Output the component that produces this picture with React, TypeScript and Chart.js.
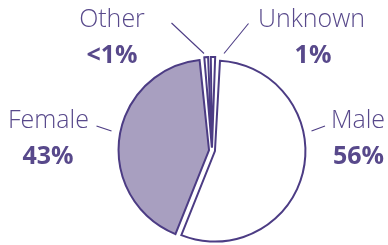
import React, { useEffect, useRef } from "react";
import { Chart, registerables } from "chart.js";

Chart.register(...registerables);

const CATEGORIES = ["Male", "Female", "Other", "Unknown"];
const SHARES = [56, 43, 0.9, 1];
const SHARE_LABELS = ["56%", "43%", "<1%", "1%"];

const FILLS = ["#ffffff", "#a89fc0", "#ffffff", "#ffffff"];
const EDGE = "#4c3c84";
const TEXT = "#58498b";

const DEG = Math.PI / 180;
const EXPLODE = 3; // px each slice is pulled out
const THIN = 10 * DEG; // slices narrower than this count as thin
const GAP_THIN_BIG = 1.2 * DEG; // extra gap beside a thin slice (taken from the big one)
const GAP_THIN_THIN = 1.6 * DEG; // gap between two thin slices (shared)

// label layout relative to pie centre: name centre, pct centre, leader line
const LABEL_LAYOUT = [
  { name: [146, -22.5], pct: [146.5, 13], line: [[99.5, -19.5], [113, -24.5]] },
  { name: [-163.5, -22.5], pct: [-164, 13], line: [[-100.5, -19.5], [-115.5, -24.5]] },
  { name: [-100, -123.5], pct: [-100, -88], line: [[-8, -97], [-40.5, -127.5]] },
  { name: [99.5, -123.5], pct: [101, -88], line: [[12, -97], [36.5, -127]] },
];

function gapShare(spanSelf: number, spanOther: number) {
  const a = spanSelf < THIN;
  const b = spanOther < THIN;
  if (a && b) return GAP_THIN_THIN / 2;
  if (!a && b) return GAP_THIN_BIG;
  return 0;
}

const explodedArcs = {
  id: "explodedArcs",
  beforeDatasetDraw(chart: any, args: any) {
    const meta = args.meta;
    const ctx = chart.ctx;
    const els = meta.data;
    const n = els.length;
    const props = els.map((el: any) =>
      el.getProps(["x", "y", "startAngle", "endAngle", "outerRadius"], true)
    );
    const spans = props.map((p: any) => p.endAngle - p.startAngle);
    ctx.save();
    els.forEach((el: any, i: number) => {
      const { x, y, startAngle, endAngle, outerRadius } = props[i];
      const prev = (i - 1 + n) % n;
      const next = (i + 1) % n;
      const o = el.options;
      const mid = (startAngle + endAngle) / 2;
      const px = x + Math.cos(mid) * EXPLODE;
      const py = y + Math.sin(mid) * EXPLODE;
      const a0 = startAngle + gapShare(spans[i], spans[prev]);
      const a1 = endAngle - gapShare(spans[i], spans[next]);
      ctx.beginPath();
      ctx.moveTo(px, py);
      ctx.arc(px, py, outerRadius, a0, a1);
      ctx.closePath();
      ctx.fillStyle = o.backgroundColor;
      ctx.fill();
      ctx.lineJoin = "miter";
      ctx.miterLimit = 6;
      ctx.lineWidth = o.borderWidth;
      ctx.strokeStyle = o.borderColor;
      ctx.stroke();
    });
    ctx.restore();
    return false;
  },
  afterDatasetsDraw(chart: any) {
    const meta = chart.getDatasetMeta(0);
    const first = meta.data[0];
    if (!first) return;
    const cx = first.x;
    const cy = first.y;
    const ctx = chart.ctx;
    ctx.save();
    ctx.textAlign = "center";
    ctx.textBaseline = "alphabetic";
    CATEGORIES.forEach((cat, i) => {
      const L = LABEL_LAYOUT[i];
      ctx.strokeStyle = EDGE;
      ctx.lineWidth = 1.1;
      ctx.beginPath();
      ctx.moveTo(cx + L.line[0][0], cy + L.line[0][1]);
      ctx.lineTo(cx + L.line[1][0], cy + L.line[1][1]);
      ctx.stroke();
      ctx.fillStyle = TEXT;
      ctx.font = '300 25px "Open Sans"';
      ctx.fillText(cat, cx + L.name[0], cy + L.name[1]);
      ctx.font = 'bold 25px "Open Sans"';
      ctx.fillText(SHARE_LABELS[i], cx + L.pct[0], cy + L.pct[1]);
    });
    ctx.restore();
  },
};

export default function App() {
  const ref = useRef<HTMLCanvasElement | null>(null);
  useEffect(() => {
    document.body.style.margin = "0";
    const canvas = ref.current;
    if (!canvas) return;
    const chart = new Chart(canvas, {
      type: "pie",
      data: {
        labels: CATEGORIES,
        datasets: [
          {
            data: SHARES,
            backgroundColor: FILLS,
            borderColor: EDGE,
            borderWidth: 2,
            radius: 90.5,
          } as any,
        ],
      },
      options: {
        animation: false,
        responsive: false,
        devicePixelRatio: 1,
        rotation: 2,
        layout: { padding: { left: 36, top: 56, right: 0, bottom: 0 } },
        plugins: { legend: { display: false }, tooltip: { enabled: false } },
        events: [],
      },
      plugins: [explodedArcs],
    });
    return () => chart.destroy();
  }, []);
  return (
    <div style={{ position: "fixed", left: 0, top: 0, width: 388, height: 245, background: "#fff" }}>
      <canvas ref={ref} width={388} height={245} style={{ width: 388, height: 245 }} />
    </div>
  );
}
